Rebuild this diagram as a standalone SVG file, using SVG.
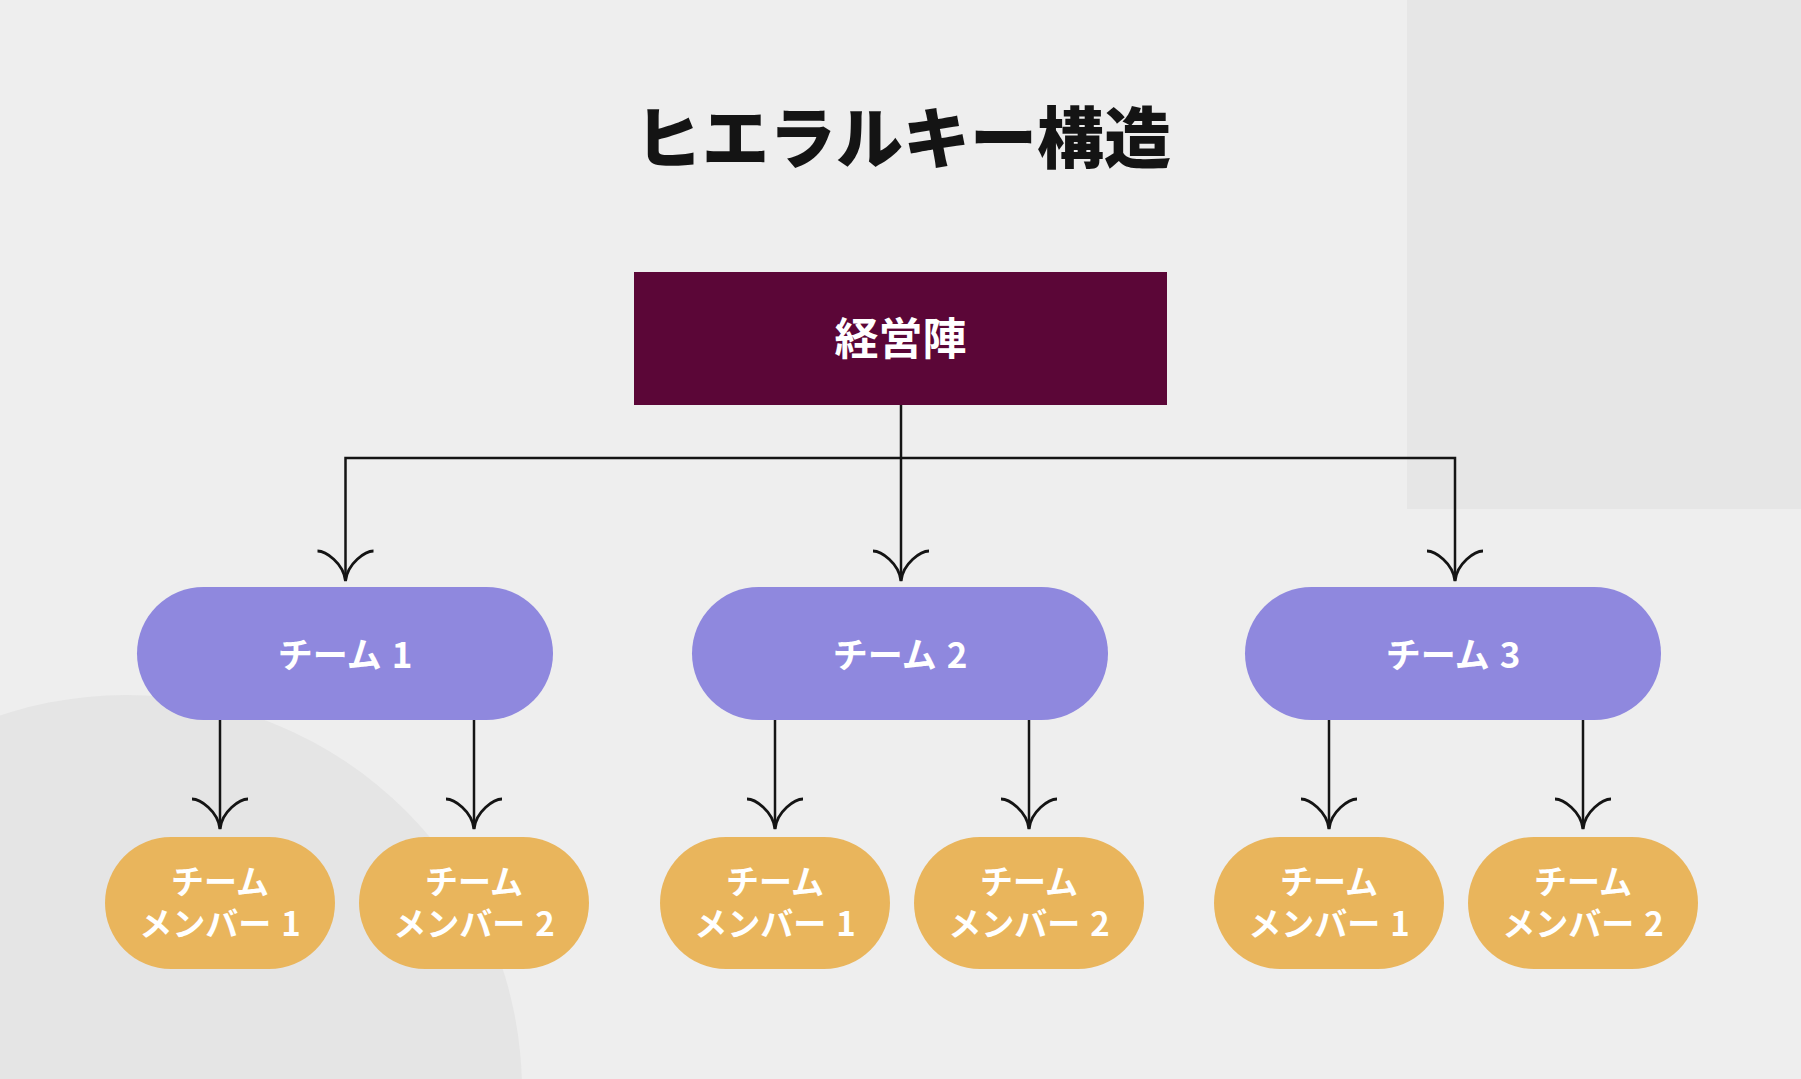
<svg xmlns="http://www.w3.org/2000/svg" width="1801" height="1079" viewBox="0 0 1801 1079">
<defs>
<style>
.t{font-family:"Noto Sans CJK JP","Noto Sans",sans-serif;fill:#ffffff;text-anchor:middle;font-weight:700}
.title{font-family:"Noto Sans CJK JP","Noto Sans",sans-serif;fill:#141414;text-anchor:middle;font-weight:900;font-size:67px}
.team{fill:#8f88de}
.mem{fill:#e9b55c}
.ln{fill:none;stroke:#141414;stroke-width:2.5}
</style>
<marker id="ah" markerUnits="userSpaceOnUse" viewBox="-34 -34 38 68" refX="0" refY="0" markerWidth="38" markerHeight="68" orient="auto" overflow="visible">
<path d="M-30,-28 C-30,-20 -18,-2 0,0 C-18,2 -30,20 -30,28" fill="none" stroke="#141414" stroke-width="2.8"/>
</marker>
</defs>
<g id="background">
<rect x="0" y="0" width="1801" height="1079" fill="#eeeeee"/>
<rect x="1407" y="0" width="394" height="509" fill="#e6e6e6"/>
<circle cx="126" cy="1091" r="396" fill="#e5e5e5"/>
</g>
<text id="title" class="title" x="903" y="163">ヒエラルキー構造</text>
<g id="connectors">
<path class="ln" d="M901,405 V581" marker-end="url(#ah)"/>
<path class="ln" d="M901,458 H345.5 V581" marker-end="url(#ah)"/>
<path class="ln" d="M901,458 H1455 V581" marker-end="url(#ah)"/>
<path class="ln" d="M220,720 V829" marker-end="url(#ah)"/>
<path class="ln" d="M474,720 V829" marker-end="url(#ah)"/>
<path class="ln" d="M775,720 V829" marker-end="url(#ah)"/>
<path class="ln" d="M1029,720 V829" marker-end="url(#ah)"/>
<path class="ln" d="M1329,720 V829" marker-end="url(#ah)"/>
<path class="ln" d="M1583,720 V829" marker-end="url(#ah)"/>
</g>
<g id="exec">
<rect x="634" y="272" width="533" height="133" fill="#5b0637"/>
<text class="t" x="900.5" y="355" font-size="44">経営陣</text>
</g>
<g id="team1">
<rect class="team" x="137" y="587" width="416" height="133" rx="66.5"/>
<text class="t" x="345" y="668" font-size="35">チーム<tspan dx="10">1</tspan></text>
</g>
<g id="team2">
<rect class="team" x="692" y="587" width="416" height="133" rx="66.5"/>
<text class="t" x="900" y="668" font-size="35">チーム<tspan dx="10">2</tspan></text>
</g>
<g id="team3">
<rect class="team" x="1245" y="587" width="416" height="133" rx="66.5"/>
<text class="t" x="1453" y="668" font-size="35">チーム<tspan dx="10">3</tspan></text>
</g>
<g id="t1m1">
<rect class="mem" x="105" y="837" width="230" height="132" rx="66"/>
<text class="t" x="220" y="894" font-size="33">チーム</text>
<text class="t" x="220" y="936" font-size="33">メンバー<tspan dx="10">1</tspan></text>
</g>
<g id="t1m2">
<rect class="mem" x="359" y="837" width="230" height="132" rx="66"/>
<text class="t" x="474" y="894" font-size="33">チーム</text>
<text class="t" x="474" y="936" font-size="33">メンバー<tspan dx="10">2</tspan></text>
</g>
<g id="t2m1">
<rect class="mem" x="660" y="837" width="230" height="132" rx="66"/>
<text class="t" x="775" y="894" font-size="33">チーム</text>
<text class="t" x="775" y="936" font-size="33">メンバー<tspan dx="10">1</tspan></text>
</g>
<g id="t2m2">
<rect class="mem" x="914" y="837" width="230" height="132" rx="66"/>
<text class="t" x="1029" y="894" font-size="33">チーム</text>
<text class="t" x="1029" y="936" font-size="33">メンバー<tspan dx="10">2</tspan></text>
</g>
<g id="t3m1">
<rect class="mem" x="1214" y="837" width="230" height="132" rx="66"/>
<text class="t" x="1329" y="894" font-size="33">チーム</text>
<text class="t" x="1329" y="936" font-size="33">メンバー<tspan dx="10">1</tspan></text>
</g>
<g id="t3m2">
<rect class="mem" x="1468" y="837" width="230" height="132" rx="66"/>
<text class="t" x="1583" y="894" font-size="33">チーム</text>
<text class="t" x="1583" y="936" font-size="33">メンバー<tspan dx="10">2</tspan></text>
</g>
</svg>
